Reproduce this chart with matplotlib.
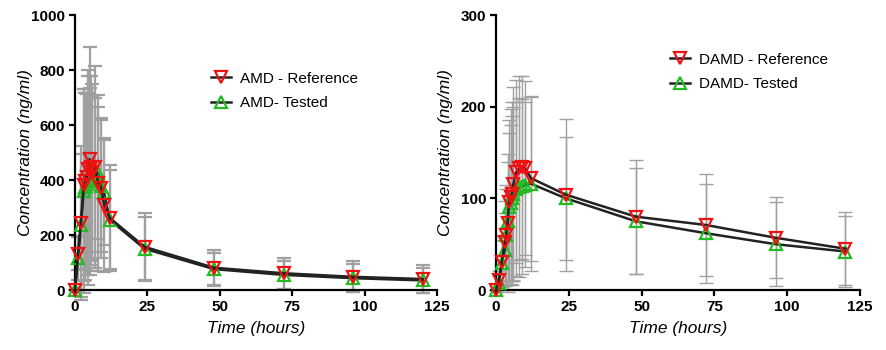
import numpy as np
import matplotlib
matplotlib.use("Agg")
import matplotlib.pyplot as plt

plt.rcParams['font.family'] = ['Liberation Sans', 'DejaVu Sans']

# sampling times (hours)
time_h = [0, 1, 2, 3, 3.5, 4, 4.5, 5, 5.5, 6, 7, 8, 9, 10, 12, 24, 48, 72, 96, 120]

# AMD (ng/ml), mean and SD
amd_ref = [0, 131, 245, 382, 395, 412, 440, 476, 448, 430, 447, 389, 372, 309, 262, 157, 81, 61, 48, 40]
amd_ref_sd = [0, 60, 280, 350, 320, 300, 360, 406, 330, 320, 368, 320, 255, 245, 193, 123, 64, 56, 57, 51]
amd_test = [0, 115, 235, 360, 375, 385, 400, 395, 400, 405, 420, 425, 380, 355, 255, 150, 76, 55, 43, 35]
amd_test_sd = [0, 80, 260, 370, 340, 330, 380, 340, 310, 300, 280, 240, 240, 190, 180, 115, 60, 52, 50, 45]

# DAMD (ng/ml), mean and SD
damd_ref = [0, 11, 31, 52, 60, 73, 96, 102, 105, 116, 129, 133, 134, 133, 122, 104, 80, 71, 57, 45]
damd_ref_sd = [0, 10, 28, 45, 55, 75, 90, 95, 100, 105, 100, 100, 100, 95, 90, 83, 62, 56, 44, 40]
damd_test = [0, 8, 30, 44, 60, 75, 91, 95, 100, 105, 110, 112, 113, 115, 116, 100, 75, 62, 50, 42]
damd_test_sd = [0, 8, 25, 40, 50, 65, 80, 85, 90, 95, 95, 98, 95, 90, 95, 67, 58, 54, 46, 39]

panels = [
    ("AMD", amd_ref, amd_ref_sd, amd_test, amd_test_sd, 1000, 200, 1.6),
    ("DAMD", damd_ref, damd_ref_sd, damd_test, damd_test_sd, 300, 100, 1.0),
]

fig = plt.figure(figsize=(8.86, 3.5), dpi=100)
rects = [[0.0847, 0.1714, 0.4086, 0.7857], [0.5598, 0.1714, 0.4108, 0.7857]]
legend_pos = [(0.337, 0.844), (0.44, 0.913)]
ylab_x = [-0.116, -0.118]

for i, (name, ref, ref_sd, test, test_sd, ymax, ystep, ebw) in enumerate(panels):
    ax = fig.add_axes(rects[i])
    # tested first, reference on top
    ax.errorbar(time_h, test, yerr=test_sd, fmt='none', ecolor='#a0a0a0',
                elinewidth=ebw, capsize=5, capthick=ebw, clip_on=False, zorder=1)
    ax.errorbar(time_h, ref, yerr=ref_sd, fmt='none', ecolor='#a0a0a0',
                elinewidth=ebw, capsize=5, capthick=ebw, clip_on=False, zorder=1)
    ax.plot(time_h, test, color='#222222', lw=1.8, marker='^', ms=9,
            mfc='none', mec='#22bb22', mew=1.6, clip_on=False, zorder=3,
            label=f'{name}- Tested')
    ax.plot(time_h, ref, color='#222222', lw=1.8, marker='v', ms=9,
            mfc='none', mec='#ee1111', mew=1.6, clip_on=False, zorder=4,
            label=f'{name} - Reference')

    ax.set_xlim(0, 125)
    ax.set_ylim(0, ymax)
    ax.set_xticks(np.arange(0, 126, 25))
    ax.set_yticks(np.arange(0, ymax + 1, ystep))
    for s in ['top', 'right']:
        ax.spines[s].set_visible(False)
    for s in ['left', 'bottom']:
        ax.spines[s].set_linewidth(1.6)
    ax.tick_params(direction='out', length=4, width=1.6, labelsize=11, pad=3)
    for lab in ax.get_xticklabels() + ax.get_yticklabels():
        lab.set_fontweight('bold')
    ax.set_xlabel('Time (hours)', fontsize=12.5, style='italic', labelpad=5)
    ax.set_ylabel('Concentration (ng/ml)', fontsize=12.5, style='italic')
    ax.yaxis.set_label_coords(ylab_x[i], 0.5)

    h, l = ax.get_legend_handles_labels()
    ax.legend(h[::-1], l[::-1], loc='upper left', bbox_to_anchor=legend_pos[i],
              frameon=False, fontsize=11, handlelength=1.3, handletextpad=0.6,
              labelspacing=0.7)

fig.savefig('out.png', dpi=100)
